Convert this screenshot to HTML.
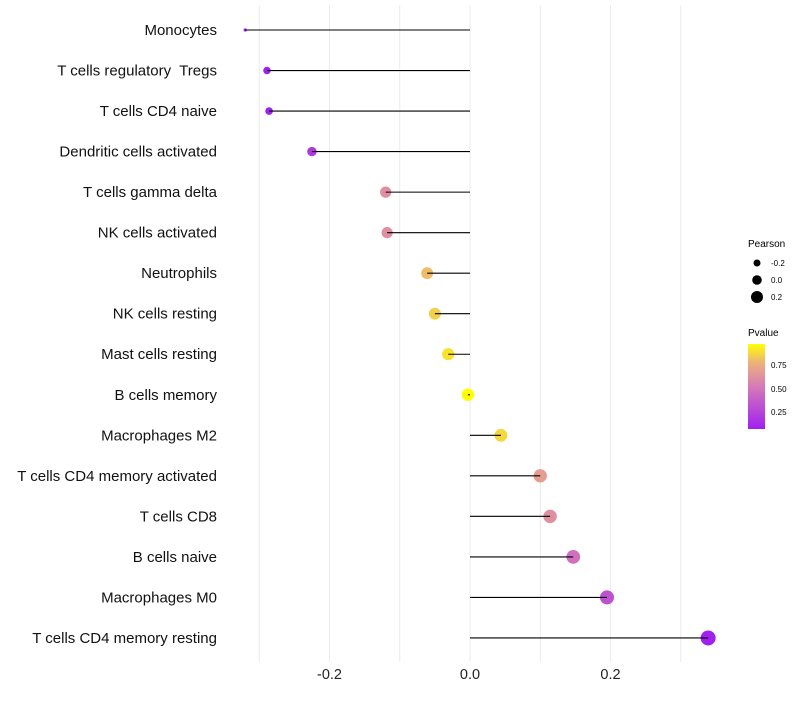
<!DOCTYPE html>
<html><head><meta charset="utf-8"><style>
body{margin:0;background:#fff;font-family:"Liberation Sans",sans-serif}
svg text{font-family:"Liberation Sans",sans-serif;white-space:pre}
</style></head><body>
<svg id="chart" width="800" height="700" xmlns="http://www.w3.org/2000/svg">
<defs><linearGradient id="pg" x1="0" y1="1" x2="0" y2="0">
<stop offset="0" stop-color="#a020f0"/><stop offset="0.5" stop-color="#d67ab8"/><stop offset="0.78" stop-color="#ecb27a"/><stop offset="1" stop-color="#ffff00"/>
</linearGradient></defs>
<g id="grid"></g>
<g id="marks"></g>
<g id="ylabels"></g>
<g id="xlabels"></g>
<g>
<text x="748" y="247" font-size="10">Pearson</text>
<circle cx="757" cy="263" r="3.5" fill="#000"/>
<text x="771" y="266" font-size="8">-0.2</text>
<circle cx="757" cy="280" r="4.8" fill="#000"/>
<text x="771" y="283" font-size="8">0.0</text>
<circle cx="757" cy="297" r="6" fill="#000"/>
<text x="771" y="300" font-size="8">0.2</text>
</g>
<g>
<text x="748" y="336" font-size="10">Pvalue</text>
<rect x="748" y="344" width="17" height="85" fill="url(#pg)"/>
<text x="771" y="368" font-size="8">0.75</text>
<text x="771" y="392" font-size="8">0.50</text>
<text x="771" y="415" font-size="8">0.25</text>
</g>
</svg>
<script>
const categories=["Monocytes","T cells regulatory  Tregs","T cells CD4 naive","Dendritic cells activated","T cells gamma delta","NK cells activated","Neutrophils","NK cells resting","Mast cells resting","B cells memory","Macrophages M2","T cells CD4 memory activated","T cells CD8","B cells naive","Macrophages M0","T cells CD4 memory resting"];
const pearson=[-0.320,-0.289,-0.286,-0.225,-0.120,-0.118,-0.061,-0.050,-0.031,-0.003,0.044,0.100,0.114,0.147,0.195,0.339];
const pvalues=[0.05,0.08,0.09,0.2,0.62,0.62,0.8,0.85,0.9,0.99,0.87,0.68,0.62,0.48,0.32,0.05];
const xTicks=[-0.2,0.0,0.2];
const xTickLabels=["-0.2","0.0","0.2"];
const xGrid=[-0.3,-0.2,-0.1,0,0.1,0.2,0.3];
const NS="http://www.w3.org/2000/svg";
const xs=v=>470+v*702.5;
const ys=i=>30+i*40.53;
const pMin=Math.min(...pearson),pMax=Math.max(...pearson);
function rad(v){const t=(v-pMin)/(pMax-pMin);return 1.6+5.9*Math.pow(t,0.33);}
function mk(t,a,p){const e=document.createElementNS(NS,t);for(const k in a)e.setAttribute(k,a[k]);p.appendChild(e);return e;}
const stops=[[0,[160,32,240]],[0.5,[214,122,184]],[0.78,[236,178,122]],[1,[255,255,0]]];
function col(p){const t=Math.max(0,Math.min(1,(p-0.08)/0.89));for(let i=1;i<stops.length;i++){if(t<=stops[i][0]){const a=stops[i-1],b=stops[i],f=(t-a[0])/(b[0]-a[0]);return"rgb("+a[1].map((c,j)=>Math.round(c+(b[1][j]-c)*f)).join(",")+")";}}return"rgb(255,255,0)";}
const g=document.getElementById('grid'),m=document.getElementById('marks'),yl=document.getElementById('ylabels'),xl=document.getElementById('xlabels');
xGrid.forEach(v=>{const l=mk('line',{x1:xs(v),x2:xs(v),y1:5,y2:662,stroke:"#ebebeb","stroke-width":1},g);

});
categories.forEach((c,i)=>{const y=ys(i),x=xs(pearson[i]);
const pt=mk('circle',{cx:x,cy:y,r:rad(pearson[i]),fill:col(pvalues[i])},m);


const ln=mk('line',{x1:xs(0),x2:x,y1:y,y2:y,stroke:"#000","stroke-width":1.1},m);


const t=mk('text',{x:217,y:y+5,"text-anchor":"end","font-size":15,fill:"#111"},yl);t.textContent=c;

});
xTicks.forEach((v,i)=>{const t=mk('text',{x:xs(v),y:679,"text-anchor":"middle","font-size":14.5,fill:"#222"},xl);t.textContent=xTickLabels[i];

});
</script>
</body></html>
